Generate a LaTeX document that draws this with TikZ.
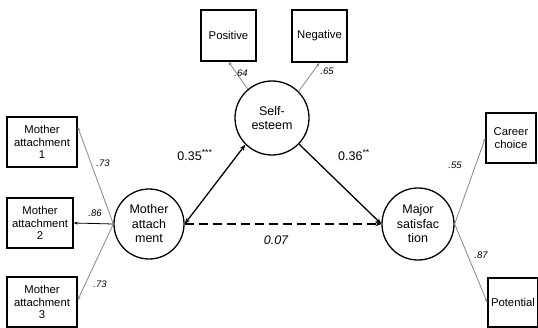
\documentclass[tikz,border=0pt]{standalone}
\usepackage{fontspec}
\setmainfont{Liberation Sans}
\usepackage{xcolor}
\usetikzlibrary{arrows.meta}
\definecolor{loadgray}{RGB}{135,135,135}

\begin{document}
\begin{tikzpicture}[x=1pt, y=1pt,
  obs/.style={draw=black, line width=1.4pt, inner sep=0, align=center,
              minimum height=50pt, font=\fontsize{11.3}{12.5}\selectfont},
  lat/.style={circle, draw=black, line width=1.3pt, inner sep=0, align=center,
              font=\fontsize{12.5}{14.5}\selectfont},
  load/.style={draw=loadgray, line width=0.8pt, -{Stealth[length=4pt,width=3pt]}},
  struct/.style={line width=1.3pt, -{Stealth[length=6pt,width=4.5pt]}},
  wt/.style={font=\fontsize{9.5}{11}\selectfont\itshape},
  est/.style={font=\fontsize{12.5}{14}\selectfont},
]
\useasboundingbox (0,0) rectangle (538,327);
% ---- latent variables
\node[lat, minimum size=74pt] (selfe) at (272,209) {Self-\\esteem};
\node[lat, minimum size=70pt] (mother) at (149,103) {Mother\\attach\\ment};
\node[lat, minimum size=72pt] (major) at (418,103) {Major\\satisfac\\tion};
% ---- observed indicators
\foreach \i/\xx/\yy/\w in {1/42/185/70, 2/40/104/66, 3/42/25/70} {
  \node[obs, minimum width=\w pt] (ma\i) at (\xx,\yy) {Mother\\attachment\\\i};
}
\node[obs, minimum width=55pt, minimum height=51pt] (pos) at (228.5,291.5) {Positive};
\node[obs, minimum width=55pt, minimum height=52pt] (neg) at (319.5,291) {Negative};
\node[obs, minimum width=50pt] (career) at (511,189) {Career\\choice};
\node[obs, minimum width=50pt, minimum height=49pt] (potential) at (513,24.5) {Potential};
% ---- measurement part
\draw[load] (mother.west) -- (ma1.23);
\draw[load, draw=black] (mother.west) -- (ma2.east);
\draw[load] (mother.west) -- (ma3.3);
\draw[load] (selfe.130) -- (pos.south);
\draw[load] (selfe.45) -- (neg.south);
\draw[load] (major.east) -- (career.west);
\draw[load] (major.east) -- (potential.west);
% ---- structural part
\draw[struct, {Stealth[length=6pt,width=4.5pt]}-{Stealth[length=6pt,width=4.5pt]}]
  (mother.east) -- (selfe.225);
\draw[struct] (selfe.-44) -- (major.west);
\draw[struct, line width=2pt, dash pattern=on 9pt off 5pt] (mother.east) -- (major.west);
% ---- estimates
\node[wt] (l1) at (103,164) {.73};
\node[wt] (l2) at (95,114) {.86};
\node[wt] (l3) at (100,43) {.73};
\node[wt] (l4) at (241,254) {.64};
\node[wt] (l5) at (327,256) {.65};
\node[wt] (l6) at (455,162) {.55};
\node[wt] (l7) at (481,72) {.87};
\node[est] (b1) at (195,172) {0.35\textsuperscript{***}};
\node[est] (b2) at (354,172) {0.36\textsuperscript{**}};
\node[est, font=\fontsize{12.5}{14}\selectfont\itshape] (b3) at (276,87) {0.07};
\end{tikzpicture}
\end{document}
